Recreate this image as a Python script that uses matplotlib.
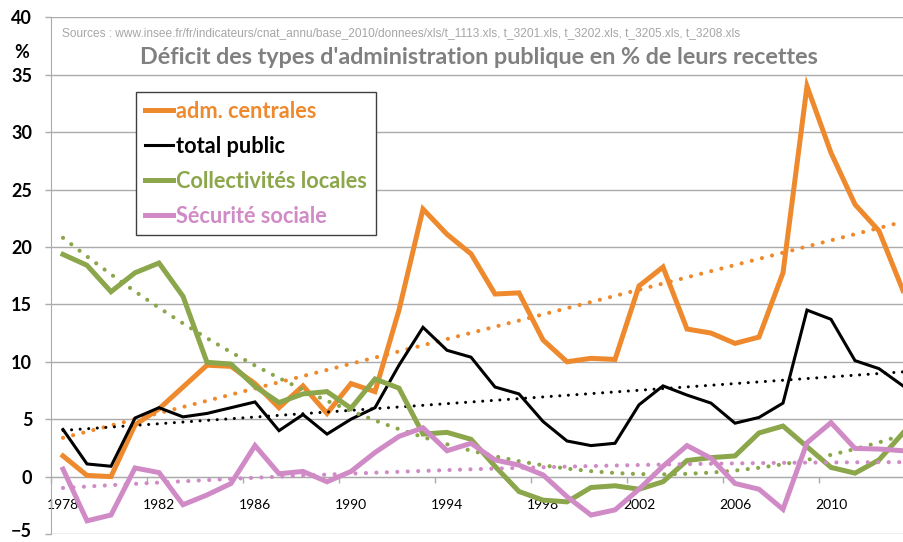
import numpy as np
from matplotlib import pyplot as plt
from matplotlib.transforms import offset_copy

# values (% of revenue)
years = list(range(1978, 2014))
adm_centrales = [1.8, 0.1, 0.0, 4.5, 5.9, 7.8, 9.7, 9.6, 8.1, 6.0, 7.9, 5.5,
                 8.1, 7.4, 14.5, 23.3, 21.1, 19.4, 15.9, 16.0, 11.9, 10.0, 10.3, 10.2,
                 16.6, 18.25, 12.85, 12.5, 11.6, 12.15, 17.75, 34.0, 28.2, 23.7, 21.4, 16.2]
total_public = [4.1, 1.1, 0.9, 5.1, 6.0, 5.2, 5.5, 6.0, 6.5, 4.0, 5.4, 3.7,
                5.0, 6.0, 9.7, 13.0, 11.0, 10.4, 7.8, 7.2, 4.8, 3.1, 2.7, 2.9,
                6.25, 7.9, 7.1, 6.4, 4.65, 5.15, 6.4, 14.5, 13.7, 10.1, 9.4, 7.9]
collectivites = [19.35, 18.4, 16.1, 17.75, 18.6, 15.7, 9.95, 9.8, 7.85, 6.45, 7.2, 7.4,
                 5.95, 8.5, 7.7, 3.7, 3.85, 3.25, 0.9, -1.3, -2.05, -2.2, -0.95, -0.8,
                 -1.1, -0.45, 1.4, 1.65, 1.8, 3.8, 4.4, 2.6, 0.8, 0.3, 1.45, 3.8]
securite_sociale = [0.65, -3.85, -3.35, 0.75, 0.35, -2.45, -1.6, -0.6, 2.7, 0.25, 0.45, -0.45,
                    0.45, 2.1, 3.5, 4.25, 2.25, 2.9, 1.45, 1.0, 0.15, -1.75, -3.35, -2.9,
                    -1.1, 0.9, 2.7, 1.6, -0.6, -1.1, -2.85, 2.95, 4.7, 2.45, 2.4, 2.25]

series = [
    ("adm. centrales", adm_centrales, "#EE8A2D", 3.6, 1),
    ("total public", total_public, "#000000", 2.2, 1),
    ("Collectivités locales", collectivites, "#8BA64B", 3.6, 2),
    ("Sécurité sociale", securite_sociale, "#D08BC6", 3.6, 2),
]

title = "Déficit des types d'administration publique en % de leurs recettes"
source = ("Sources : www.insee.fr/fr/indicateurs/cnat_annu/base_2010/donnees/xls/"
          "t_1113.xls, t_3201.xls, t_3202.xls, t_3205.xls, t_3208.xls")

plt.rcParams["font.family"] = ["Lato", "DejaVu Sans"]
grid_col = "#ABABAB"

fig = plt.figure(figsize=(9.04, 5.42), dpi=100)
ax = fig.add_axes([51 / 904, 8 / 542, 853 / 904, 516.7 / 542])

x = np.array(years, dtype=float)
handles = []
for label, vals, col, lw, deg in series:
    ln, = ax.plot(x, vals, color=col, lw=lw, label=label,
                  solid_joinstyle="miter", zorder=3)
    handles.append(ln)
    # Excel-style trend line (linear / polynomial fit of the series)
    coef = np.polyfit(x - x[0], vals, deg)
    dot_lw = 2.2 if col == "#000000" else 3.0
    gap = 2.8 if col == "#000000" else 2.5
    ax.plot(x, np.polyval(coef, x - x[0]), color=col, lw=dot_lw,
            linestyle=(0, (0.01, gap)), dash_capstyle="round", zorder=3)

ax.set_xlim(1977.5, 1977.5 + 853 / 24)
ax.set_ylim(-5, 40)
ax.set_yticks(range(-5, 41, 5))
ax.yaxis.grid(True, color=grid_col, lw=1)
ax.set_axisbelow(True)
ax.tick_params(axis="y", length=4.5, color=grid_col, width=1, pad=9, labelsize=13)
for t in ax.get_yticklabels():
    t.set_fontweight("bold")
# bottom label sits right at the image edge: nudge it up a little
low = ax.get_yticklabels()[0]
low.set_transform(offset_copy(low.get_transform(), fig=fig, y=4, units="dots"))

ax.set_xticks(np.arange(1977.5, 2013, 4))
ax.set_xticklabels([])
ax.set_xticks(years[::4], minor=True)
ax.set_xticklabels([str(y) for y in years[::4]], minor=True,
                   fontsize=13, fontweight="bold")
ax.tick_params(axis="x", which="major", length=4.5, color=grid_col, width=1)
ax.tick_params(axis="x", which="minor", length=0, pad=16)

for side in ("top", "right"):
    ax.spines[side].set_visible(False)
ax.spines["left"].set_color(grid_col)
ax.spines["bottom"].set_color(grid_col)
ax.spines["bottom"].set_position(("data", 0))

fig.text(479 / 904, 1 - 57 / 542, title, ha="center", va="center",
         color="#808080", fontsize=16.8, fontweight="bold")
fig.text(62 / 904, 1 - 33 / 542, source, ha="left", va="center",
         color="#A6A6A6", fontsize=8.6, family="Liberation Sans")
fig.text(22 / 904, 1 - 53 / 542, "%", ha="center", va="center",
         fontsize=13, fontweight="bold")

leg = ax.legend(handles=handles, loc="upper left",
                bbox_to_anchor=(136 / 904, 1 - 92 / 542),
                bbox_transform=fig.transFigure, borderaxespad=0,
                fancybox=False, framealpha=1, edgecolor="#404040",
                handlelength=1.3, handletextpad=0.15, labelspacing=0.64,
                borderpad=0.4, prop=dict(weight="bold", size=15.7),
                labelcolor="linecolor")
leg.get_frame().set_linewidth(1)
leg.set_zorder(5)

fig.savefig("out.png", dpi=100)
